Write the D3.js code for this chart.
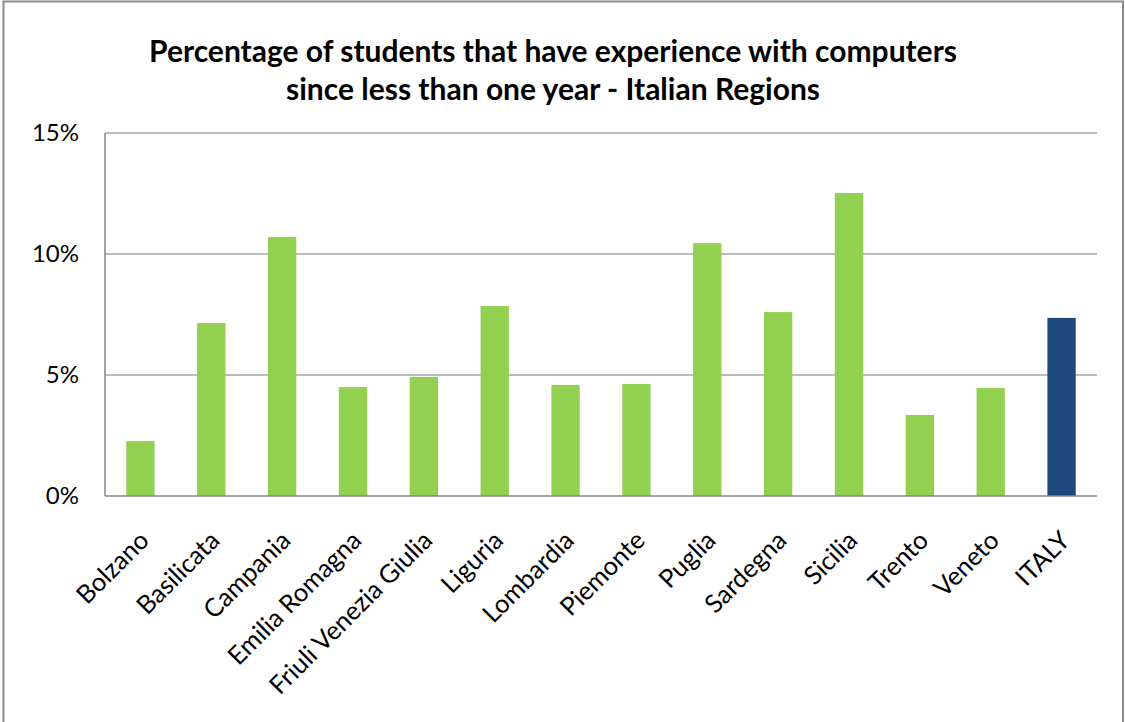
<!DOCTYPE html>
<html>
<head>
<meta charset="utf-8">
<script src="https://cdn.jsdelivr.net/npm/d3@7"></script>
<style>
  html, body { margin: 0; padding: 0; background: #fff; }
  svg { display: block; }
  text { font-family: Lato, "Open Sans", sans-serif; fill: #000; }
</style>
</head>
<body>
<svg id="chart" width="1125" height="722"></svg>
<script>
// Regions and the share of students using computers for less than a year
const regions = ["Bolzano", "Basilicata", "Campania", "Emilia Romagna", "Friuli Venezia Giulia",
  "Liguria", "Lombardia", "Piemonte", "Puglia", "Sardegna", "Sicilia", "Trento", "Veneto", "ITALY"];
const shares = [2.27, 7.15, 10.7, 4.5, 4.92, 7.85, 4.59, 4.63, 10.45, 7.6, 12.52, 3.35, 4.46, 7.36];
const yTicks = [0, 5, 10, 15];
const titleLines = ["Percentage of students that have experience with computers",
  "since less than one year - Italian Regions"];

const svg = d3.select("#chart");
const W = 1125, H = 722;
const plot = { left: 105, right: 1097, top: 133, bottom: 496 };

// chart frame
svg.append("rect")
  .attr("x", 3.5).attr("y", 1.5)
  .attr("width", 1119.5).attr("height", H + 10)
  .attr("fill", "#fff").attr("stroke", "#8c8c8c").attr("stroke-width", 2);

const x = d3.scaleBand().domain(regions).range([plot.left, plot.right]).paddingInner(0.6).paddingOuter(0.3);
const y = d3.scaleLinear().domain([0, 15]).range([plot.bottom, plot.top]);

// horizontal gridlines
svg.append("g").selectAll("line").data(yTicks.filter(d => d > 0)).join("line")
  .attr("x1", plot.left).attr("x2", plot.right)
  .attr("y1", d => y(d)).attr("y2", d => y(d))
  .attr("stroke", "#a6a6a6").attr("stroke-width", 1.5);

// bars
svg.append("g").selectAll("rect").data(regions).join("rect")
  .attr("x", d => x(d))
  .attr("width", x.bandwidth())
  .attr("y", (d, i) => y(shares[i]))
  .attr("height", (d, i) => y(0) - y(shares[i]))
  .attr("fill", d => d === "ITALY" ? "#1f497d" : "#92d050");

// axes lines
svg.append("line").attr("x1", plot.left).attr("x2", plot.left)
  .attr("y1", plot.top).attr("y2", plot.bottom)
  .attr("stroke", "#868686").attr("stroke-width", 1.5);
svg.append("line").attr("x1", plot.left).attr("x2", plot.right)
  .attr("y1", plot.bottom).attr("y2", plot.bottom)
  .attr("stroke", "#868686").attr("stroke-width", 1.5);

// y tick labels
svg.append("g").selectAll("text").data(yTicks).join("text")
  .attr("x", 79).attr("y", d => y(d))
  .attr("dy", "0.35em")
  .attr("text-anchor", "end")
  .attr("font-size", 24)
  .attr("fill", "#222")
  .text(d => d + "%");

// category labels, slanted
svg.append("g").selectAll("text").data(regions).join("text")
  .attr("transform", d => `translate(${x(d) + x.bandwidth() / 2 + 10},${plot.bottom + 46}) rotate(-45)`)
  .attr("text-anchor", "end")
  .attr("font-size", 25.5)
  .attr("fill", "#222")
  .text(d => d);

// title
svg.append("g").selectAll("text").data(titleLines).join("text")
  .attr("x", 553).attr("y", (d, i) => 62 + i * 38)
  .attr("text-anchor", "middle")
  .attr("font-size", 30)
  .attr("font-weight", "bold")
  .text(d => d);
</script>
</body>
</html>
